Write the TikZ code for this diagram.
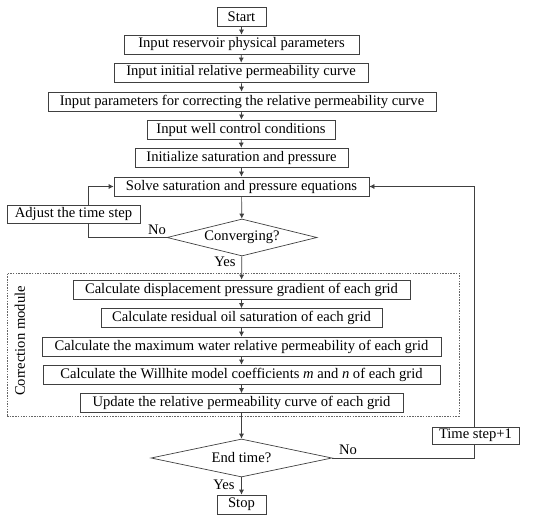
\documentclass[tikz,border=0pt]{standalone}
\usepackage{fontspec}
\setmainfont{Liberation Serif}
\usetikzlibrary{shapes.geometric,arrows.meta}
\begin{document}
\begin{tikzpicture}[x=1pt,y=-1pt,
  box/.style={draw=black!75, line width=0.7pt, inner sep=0pt, minimum height=19pt, font=\fontsize{14.6}{16}\selectfont},
  dia/.style={draw=black!75, line width=0.7pt, diamond, aspect=4, inner sep=0pt, font=\fontsize{14.6}{16}\selectfont},
  lab/.style={font=\fontsize{14.6}{16}\selectfont, inner sep=0pt},
  conn/.style={draw=black!75, line width=0.7pt},
  arr/.style={conn, -{Latex[length=5pt,width=5pt]}}]
\useasboundingbox (0,0) rectangle (550,519);
\node[box, minimum width=49pt] (start) at (241.5,16.5) {Start};
\node[box, minimum width=235pt] (b1) at (241.5,44.5) {Input reservoir physical parameters};
\node[box, minimum width=254pt] (b2) at (241,72.5) {Input initial relative permeability curve};
\node[box, minimum width=388pt] (b3) at (242,101.5) {Input parameters for correcting the relative permeability curve};
\node[box, minimum width=188pt] (b4) at (241,129.5) {Input well control conditions};
\node[box, minimum width=213pt] (b5) at (241.5,157.5) {Initialize saturation and pressure};
\node[box, minimum width=255pt] (solve) at (241.5,186.5) {Solve saturation and pressure equations};
\node[box, minimum width=133pt, minimum height=18pt] (adjust) at (73.5,214) {Adjust the time step};
\node[dia, minimum width=150pt, minimum height=37pt] (conv) at (242,237.5) {Converging?};
\node[draw=black!60, line width=0.7pt, dash pattern=on 1.5pt off 1.2pt, minimum width=452pt, minimum height=143pt, inner sep=0pt] (corr) at (233,344.5) {};
\node[lab, rotate=90] (corrlab) at (20,341) {Correction module};
\node[box, minimum width=337pt] (c1) at (241.5,289.5) {Calculate displacement pressure gradient of each grid};
\node[box, minimum width=281pt] (c2) at (241.5,318) {Calculate residual oil saturation of each grid};
\node[box, minimum width=399pt] (c3) at (241.5,346.5) {Calculate the maximum water relative permeability of each grid};
\node[box, minimum width=397pt] (c4) at (241.5,374.5) {Calculate the Willhite model coefficients \textit{m} and \textit{n} of each grid};
\node[box, minimum width=323pt] (c5) at (241.5,403) {Update the relative permeability curve of each grid};
\node[dia, minimum width=181pt, minimum height=38pt] (endt) at (241.5,458) {End time?};
\node[box, minimum width=87pt, minimum height=17pt] (tstep) at (475.5,435.5) {Time step+1};
\node[box, minimum width=49pt] (stop) at (241.5,504.5) {Stop};
\node[lab] (no1) at (157,230) {No};
\node[lab] (yes1) at (225,262) {Yes};
\node[lab] (no2) at (348,450) {No};
\node[lab] (yes2) at (224,485) {Yes};
\draw[arr] (start) -- (b1);
\draw[arr] (b1) -- (b2);
\draw[arr] (b2) -- (b3);
\draw[arr] (b3) -- (b4);
\draw[arr] (b4) -- (b5);
\draw[arr] (b5) -- (solve);
\draw[arr] (solve) -- (conv);
\draw[arr] (conv) -- (c1);
\draw[arr] (c1) -- (c2);
\draw[arr] (c2) -- (c3);
\draw[arr] (c3) -- (c4);
\draw[arr] (c4) -- (c5);
\draw[arr] (c5) -- (endt);
\draw[arr] (endt) -- (stop);
\draw[conn] (conv.west) -| ([xshift=14.5pt]adjust.south);
\draw[arr] ([xshift=14.5pt]adjust.north) |- (solve.west);
\draw[conn] (endt.east) -| ([xshift=-1.5pt]tstep.south);
\draw[arr] ([xshift=-1.5pt]tstep.north) |- (solve.east);
\end{tikzpicture}
\end{document}
